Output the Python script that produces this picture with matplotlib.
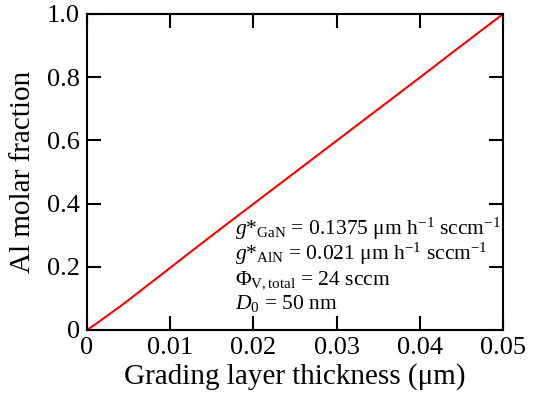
import numpy as np
import matplotlib
matplotlib.use("Agg")
import matplotlib.pyplot as plt

plt.rcParams['font.family'] = ['Liberation Serif', 'DejaVu Serif']
plt.rcParams['mathtext.fontset'] = 'custom'
plt.rcParams['mathtext.rm'] = 'Liberation Serif'
plt.rcParams['mathtext.it'] = 'Liberation Serif:italic'

# grading layer thickness (um) and Al molar fraction
thickness = [0.0, 0.001, 0.002, 0.003, 0.004, 0.005, 0.0075, 0.01, 0.0125, 0.015,
             0.0175, 0.02, 0.025, 0.03, 0.035, 0.04, 0.045, 0.05]
al_frac = [0.0, 0.018, 0.037, 0.056, 0.075, 0.095, 0.146, 0.197, 0.248, 0.299,
           0.349, 0.399, 0.499, 0.599, 0.699, 0.799, 0.900, 1.0]

xticks = [0, 0.01, 0.02, 0.03, 0.04, 0.05]
xlabels = ['0', '0.01', '0.02', '0.03', '0.04', '0.05']
yticks = [0, 0.2, 0.4, 0.6, 0.8, 1.0]
ylabels = ['0', '0.2', '0.4', '0.6', '0.8', '1.0']

fig = plt.figure(figsize=(5.33, 4.04), dpi=100)
ax = fig.add_axes([87/533, 1 - 330/404, 416/533, 316/404])
ax.plot(thickness, al_frac, color='red', lw=1.5)

ax.set_xlim(0, 0.05)
ax.set_ylim(0, 1.0)
ax.set_xticks(xticks)
ax.set_xticklabels(xlabels)
ax.set_yticks(yticks)
ax.set_yticklabels(ylabels)
ax.tick_params(direction='in', top=True, right=True, length=10, width=1.5,
               labelsize=19, pad=5)
for s in ax.spines.values():
    s.set_linewidth(1.5)

ax.set_xlabel('Grading layer thickness (μm)', fontsize=21, labelpad=3)
ax.set_ylabel('Al molar fraction', fontsize=21, labelpad=8)

lines = [r'$g$*$_{\mathrm{GaN}}$ = 0.1375 μm h$^{-1}$ sccm$^{-1}$',
         r'$g$*$_{\mathrm{AlN}}$ = 0.021 μm h$^{-1}$ sccm$^{-1}$',
         r'Φ$_{\mathrm{V,total}}$ = 24 sccm',
         r'$D$$_0$ = 50 nm']
ys = [0.301, 0.222, 0.146, 0.066]
for t, y in zip(lines, ys):
    ax.text(0.0178, y, t, fontsize=15.5, va='baseline')

fig.savefig('out.png', dpi=100)
